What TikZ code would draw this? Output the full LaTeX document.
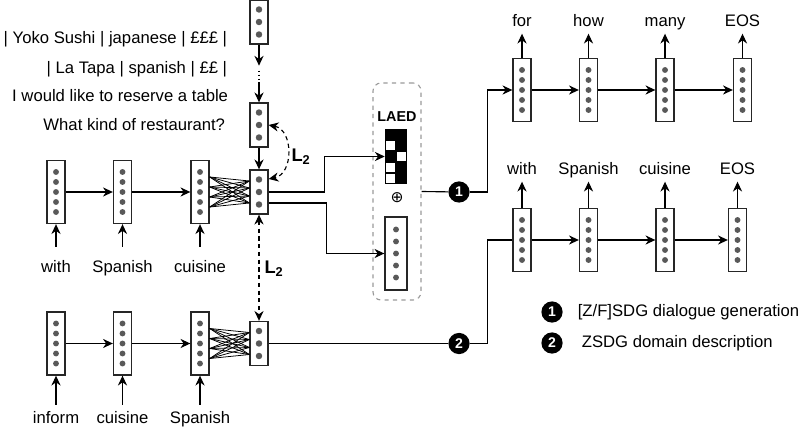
\documentclass[tikz,border=0pt]{standalone}
\usepackage{fontspec}
\setmainfont{Liberation Sans}
\newfontfamily\symfont{DejaVu Sans}
\usetikzlibrary{arrows.meta,positioning}

\begin{document}
\begin{tikzpicture}[
    x=0.025cm, y=-0.025cm,
    font=\fontsize{11.85pt}{14pt}\selectfont,
    vec/.style={rectangle, draw=black!85, fill=white, line width=0.95pt, minimum width=0.45cm, minimum height=1.575cm, inner sep=0pt},
    vecs/.style={vec, minimum height=1.1cm},
    word/.style={inner xsep=1pt, inner ysep=2pt, text height=0.3cm, text depth=0.09cm, anchor=base},
    num/.style={circle, fill=black, text=white, inner sep=0pt, minimum size=0.53cm, font=\bfseries\fontsize{10pt}{12pt}\selectfont},
    arr/.style={-{Stealth[length=7pt,width=6.5pt]}, line width=0.8pt},
    dbl/.style={{Stealth[length=7pt,width=6.5pt]}-{Stealth[length=7pt,width=6.5pt]}, line width=0.8pt, dash pattern=on 3pt off 2.5pt},
    vdot/.style={fill=black!65},
    link/.style={line width=0.8pt}
]
\useasboundingbox (0,0) rectangle (806,431);

\node[anchor=base east] (u1) at (232,44) {| Yoko Sushi | japanese | £££ |};
\node[anchor=base east] (u2) at (232,73.5) {| La Tapa | spanish | ££ |};
\node[anchor=base east] (u3) at (233,102) {I would like to reserve a table};
\node[anchor=base east] (u4) at (230,131) {What kind of restaurant?};

\node[vecs] (ctx) at (259,22) {};
\node[vecs] (mid) at (259,125) {};
\node[vecs] (enc) at (259,192) {};
\node[vecs] (dsc) at (259,343.5) {};
\draw[arr] (ctx.south) -- ([yshift=-0.525cm]ctx.south);
\draw[link, dotted] ([yshift=-0.65cm]ctx.south) -- ([yshift=0.45cm]mid.north);
\draw[arr] ([yshift=0.45cm]mid.north) -- (mid.north);
\draw[arr] (mid) -- (enc);

\foreach \x/\w [count=\i] in {56/with, 122.5/Spanish, 200/cuisine} {
    \node[vec] (e\i) at (\x,192) {};
    \node[word, inner ysep=0.34cm] (w\i) at (\x,272.5) {\w};
    \draw[arr] (w\i) -- (e\i);
}
\foreach \x/\w [count=\i] in {56/inform, 122.5/cuisine, 200/Spanish} {
    \node[vec] (f\i) at (\x,343.5) {};
    \node[word, inner ysep=0.16cm] (v\i) at (\x,423.3) {\w};
    \draw[arr] (v\i) -- (f\i);
}
\foreach \i/\j in {1/2,2/3} {
    \draw[arr] (e\i) -- (e\j);
    \draw[arr] (f\i) -- (f\j);
}
\foreach \a in {-0.375,-0.125,0.125,0.375}
    \foreach \b in {-0.275,-0.1,0.1,0.275} {
        \draw[line width=0.55pt] ([yshift=\a cm]e3.east) -- ([yshift=\b cm]enc.west);
        \draw[line width=0.55pt] ([yshift=\a cm]f3.east) -- ([yshift=\b cm]dsc.west);
    }

\draw[dbl] (mid.east) .. controls +(25,5) and +(25,-5) .. ([yshift=0.325cm]enc.east);
\node[font=\bfseries\fontsize{13pt}{15pt}\selectfont] (l2a) at (301,157) {L\textsubscript{2}};
\draw[dbl] (enc.south) -- (dsc.north);
\node[font=\bfseries\fontsize{13pt}{15pt}\selectfont] (l2b) at (274,269) {L\textsubscript{2}};

\node[draw=black!40, dashed, rounded corners=0.2cm, line width=0.8pt, minimum width=1.2cm, minimum height=5.425cm] (laed) at (397,191.5) {};
\node[font=\bfseries\fontsize{10.2pt}{12pt}\selectfont] (laedt) at (397,117) {LAED};
\node[minimum width=0.55cm, minimum height=1.375cm, inner sep=0pt] (grid) at (396,156.5) {};
\fill[black] (385,129) rectangle (407,184);
\foreach \c/\r in {0/1,1/2,0/3,0/4}
    \fill[white] (386.3+11*\c,130.3+11*\r) rectangle ++(8.6,8.6);
\node (plus) at (397,198) {\symfont\fontsize{11pt}{13pt}\selectfont ⊕};
\node[vec, minimum width=0.55cm, minimum height=1.825cm] (lv) at (396,253.5) {};

\draw[arr] (enc.east) -| ([xshift=-1.5cm]grid.west) -- (grid.west);
\draw[arr] ([yshift=-0.275cm]enc.east) -| ([xshift=-1.45cm]lv.west) -- (lv.west);

\node[num] (c1) at (459,192) {1};
\node[num] (c2) at (459,343.5) {2};
\draw[link] (laed.east) -- (c1);
\draw[link] (dsc) -- (c2);

\foreach \x/\w [count=\i] in {522/for, 588.5/how, 665/many, 742.5/EOS} {
    \node[vec] (t\i) at (\x,90) {};
    \node[word] (o\i) at (\x,27) {\w};
    \draw[arr] (t\i) -- (o\i);
}
\foreach \x/\w [count=\i] in {522/with, 588.5/Spanish, 665/cuisine, 737.5/EOS} {
    \node[vec] (b\i) at (\x,240) {};
    \node[word] (p\i) at (\x,175) {\w};
    \draw[arr] (b\i) -- (p\i);
}
\foreach \i/\j in {1/2,2/3,3/4} {
    \draw[arr] (t\i) -- (t\j);
    \draw[arr] (b\i) -- (b\j);
}
\draw[arr] (c1) -| ([xshift=-0.625cm]t1.west) -- (t1.west);
\draw[link] (c2) -| ([xshift=-0.625cm]b1.west) -- (b1.west);

\foreach \n in {e1,e2,e3,f1,f2,f3,t1,t2,t3,t4,b1,b2,b3,b4}
    \foreach \k in {-2,...,2}
        \fill[vdot] ([yshift=\k*0.25cm]\n.center) circle (2.1pt);
\foreach \n in {ctx,mid,enc,dsc}
    \foreach \k in {-1,0,1}
        \fill[vdot] ([yshift=\k*0.3125cm]\n.center) circle (2.3pt);
\foreach \k in {-2,...,2}
    \fill[vdot] ([yshift=\k*0.3cm]lv.center) circle (2.1pt);

\node[num] (k1) at (552,312) {1};
\node[right=0.25cm of k1] (g1) {[Z/F]SDG dialogue generation};
\node[num] (k2) at (552,343) {2};
\node[right=0.35cm of k2] (g2) {ZSDG domain description};
\end{tikzpicture}
\end{document}
